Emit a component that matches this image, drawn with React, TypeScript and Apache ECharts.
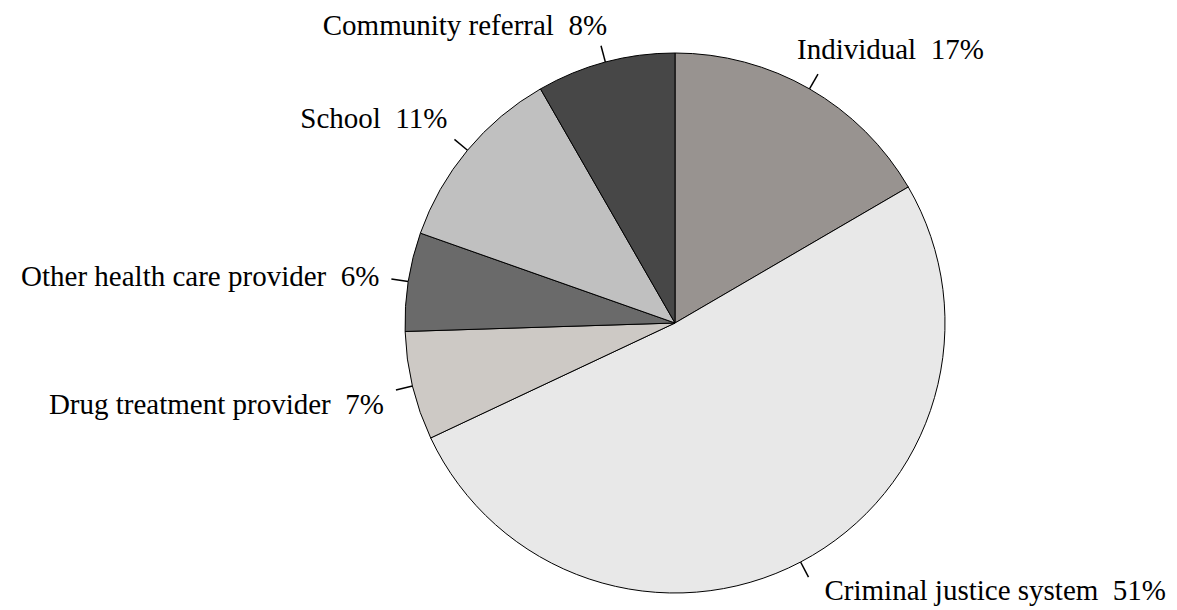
import React, { useEffect, useRef } from "react";
import * as echarts from "echarts";

const categories = [
  "Individual",
  "Criminal justice system",
  "Drug treatment provider",
  "Other health care provider",
  "School",
  "Community referral",
];
const shares = [16.6, 51.4, 6.5, 5.9, 11.3, 8.3];
const colors = ["#989390", "#e8e8e8", "#cdc9c5", "#6a6a6a", "#c0c0c0", "#474747"];

export default function App() {
  const ref = useRef<HTMLDivElement>(null);
  useEffect(() => {
    const chart = echarts.init(ref.current as HTMLDivElement, null, { renderer: "svg" });
    chart.setOption({
      animation: false,
      backgroundColor: "#ffffff",
      series: [
        {
          type: "pie",
          center: [675, 323],
          radius: 270,
          startAngle: 90,
          clockwise: true,
          avoidLabelOverlap: false,
          silent: true,
          data: categories.map((name, i) => ({
            name,
            value: shares[i],
            itemStyle: { color: colors[i] },
          })),
          itemStyle: { borderColor: "#000000", borderWidth: 1 },
          label: {
            show: true,
            position: "outside",
            formatter: (p: any) => `${p.name}  ${Math.round(p.value)}%`,
            fontFamily: "Liberation Serif",
            fontSize: 29,
            color: "#000000",
          },
          labelLine: {
            show: true,
            length: 17,
            length2: 0,
            smooth: false,
            lineStyle: { color: "#000000", width: 1.5 },
          },
          labelLayout: (params: any) => {
            const pts = params.labelLinePoints;
            if (!pts) return {};
            const s = pts[0];
            const e = pts[1];
            const dx = e[0] - s[0];
            const dy = e[1] - s[1];
            const len = Math.hypot(dx, dy) || 1;
            const ux = dx / len;
            const uy = dy / len;
            const align = ux >= 0 ? "left" : "right";
            let x: number;
            let y: number;
            if (uy < -0.5) {
              y = e[1] + (ux >= 0 ? -25 : -21);
              x = e[0] + (ux >= 0 ? -21 : 12.6 + 25.5 * ux);
            } else if (uy > 0.2) {
              y = e[1] + (ux >= 0 ? 13 : 14);
              x = e[0] + (ux >= 0 ? 16 : -12);
            } else {
              y = e[1] - 3;
              x = e[0] + (ux >= 0 ? 12 : -12);
            }
            return { x, y, align, verticalAlign: "middle", labelLinePoints: pts };
          },
          emphasis: { disabled: true },
        },
      ],
    });
    return () => chart.dispose();
  }, []);
  return (
    <div
      ref={ref}
      style={{ position: "fixed", left: 0, top: 0, width: 1177, height: 610 }}
    />
  );
}
